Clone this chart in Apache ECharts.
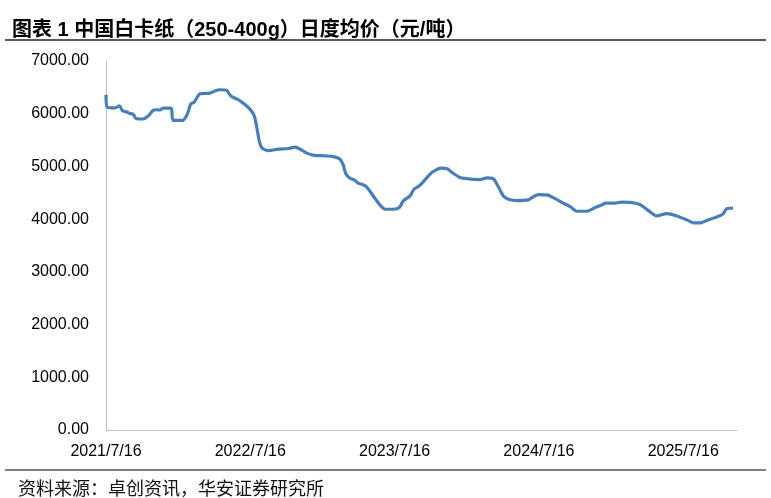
<!DOCTYPE html>
<html>
<head>
<meta charset="utf-8">
<script src="https://cdn.jsdelivr.net/npm/echarts@6/dist/echarts.min.js"></script>
<style>
  html, body { margin: 0; padding: 0; background: #fff; }
  #chart { width: 771px; height: 498px; }
</style>
</head>
<body>
<div id="chart"></div>
<script>
// 中国白卡纸（250-400g）日度均价，读图取点
const dates = [
  "2021-07-16", "2021-07-19", "2021-08-08", "2021-08-19", "2021-08-27", "2021-09-06", "2021-09-13",
  "2021-09-23", "2021-09-30", "2021-10-18", "2021-10-31", "2021-11-11", "2021-11-19", "2021-11-30",
  "2021-12-08", "2021-12-25", "2021-12-29", "2022-01-02", "2022-01-26", "2022-02-07", "2022-02-15",
  "2022-02-24", "2022-03-11", "2022-04-05", "2022-04-20", "2022-04-30", "2022-05-17", "2022-05-24",
  "2022-05-30", "2022-06-16", "2022-07-03", "2022-07-15", "2022-07-26", "2022-08-01", "2022-08-08",
  "2022-08-15", "2022-08-31", "2022-09-25", "2022-10-20", "2022-11-06", "2022-11-19", "2022-12-06",
  "2022-12-22", "2023-01-21", "2023-02-11", "2023-02-28", "2023-03-08", "2023-03-14", "2023-03-25",
  "2023-04-05", "2023-04-15", "2023-05-02", "2023-05-11", "2023-05-27", "2023-06-11", "2023-06-22",
  "2023-07-13", "2023-07-28", "2023-08-07", "2023-08-24", "2023-09-03", "2023-09-14", "2023-09-27",
  "2023-10-12", "2023-10-18", "2023-11-01", "2023-11-12", "2023-11-26", "2023-12-07", "2023-12-27",
  "2024-01-14", "2024-02-17", "2024-03-05", "2024-03-22", "2024-04-03", "2024-04-16", "2024-04-29",
  "2024-05-20", "2024-06-18", "2024-07-01", "2024-07-14", "2024-08-04", "2024-08-25", "2024-09-15",
  "2024-10-02", "2024-10-19", "2024-11-13", "2024-12-04", "2024-12-25", "2024-12-29", "2025-01-19",
  "2025-02-09", "2025-03-07", "2025-03-28", "2025-04-18", "2025-05-09", "2025-06-03", "2025-06-29",
  "2025-07-24", "2025-08-10", "2025-08-27", "2025-09-12", "2025-10-03", "2025-10-23", "2025-11-02",
  "2025-11-15", "2025-11-18"
];
const prices = [
  6360, 6125, 6110, 6150, 6055, 6035, 6010,
  5985, 5910, 5900, 5960, 6055, 6075, 6070,
  6105, 6105, 6090, 5875, 5875, 5995, 6180,
  6220, 6377, 6390, 6440, 6455, 6445, 6370,
  6325, 6265, 6170, 6087, 5960, 5757, 5472,
  5347, 5301, 5328, 5340, 5366, 5328, 5252,
  5214, 5200, 5187, 5138, 5030, 4872, 4777,
  4745, 4682, 4637, 4568, 4397, 4251, 4188,
  4188, 4219, 4346, 4441, 4568, 4618, 4713,
  4840, 4884, 4948, 4967, 4954, 4891, 4796,
  4770, 4750, 4783, 4764, 4618, 4441, 4378,
  4352, 4365, 4428, 4466, 4460, 4390, 4302,
  4238, 4150, 4150, 4219, 4283, 4302, 4302,
  4321, 4314, 4276, 4162, 4061, 4105, 4061,
  3986, 3929, 3929, 3972, 4029, 4093, 4200,
  4208, 4210
];
const tickLabels = ["2021/7/16", "2022/7/16", "2023/7/16", "2024/7/16", "2025/7/16"];
const startDate = "2021-07-16";
const endDate = "2025-11-28";

const DAY = 86400000;
function toDay(s) {
  const [y, m, d] = s.split("-").map(Number);
  const [y0, m0, d0] = startDate.split("-").map(Number);
  return Math.round((Date.UTC(y, m - 1, d) - Date.UTC(y0, m0 - 1, d0)) / DAY);
}
const seriesData = dates.map((d, i) => [toDay(d), prices[i]]);

const chart = echarts.init(document.getElementById("chart"));
chart.setOption({
  animation: false,
  backgroundColor: "#fff",
  textStyle: { fontFamily: "Liberation Sans, Arial, Noto Sans CJK SC, sans-serif" },
  title: [
    {
      text: "图表 1 中国白卡纸（250-400g）日度均价（元/吨）",
      left: 7,
      top: 15,
      textStyle: { fontSize: 20, fontWeight: "bold", color: "#000",
        fontFamily: "Liberation Sans, Noto Sans CJK SC, sans-serif" }
    },
    {
      text: "资料来源：卓创资讯，华安证券研究所",
      left: 13,
      top: 474,
      textStyle: { fontSize: 18, fontWeight: "normal", color: "#111",
        fontFamily: "Noto Sans CJK SC, sans-serif" }
    }
  ],
  graphic: [
    { type: "line", shape: { x1: 5, y1: 40, x2: 766, y2: 40 }, style: { stroke: "#222", lineWidth: 1.5 } },
    { type: "line", shape: { x1: 5, y1: 470, x2: 766, y2: 470 }, style: { stroke: "#555", lineWidth: 1.5 } }
  ],
  grid: { left: 106, right: 34, top: 61, bottom: 68 },
  xAxis: {
    type: "value",
    min: 0,
    max: toDay(endDate),
    interval: 365,
    axisLine: { lineStyle: { color: "#bfbfbf", width: 1 } },
    axisTick: { show: false },
    splitLine: { show: false },
    axisLabel: {
      showMaxLabel: false,
      color: "#000",
      fontSize: 16,
      margin: 14,
      formatter: v => tickLabels[Math.round(v / 365)] || ""
    }
  },
  yAxis: {
    type: "value",
    min: 0,
    max: 7000,
    interval: 1000,
    axisLine: { show: true, lineStyle: { color: "#bfbfbf", width: 1 } },
    axisTick: { show: false },
    splitLine: { show: false },
    axisLabel: {
      color: "#000",
      fontSize: 16,
      margin: 17,
      formatter: v => v.toFixed(2)
    }
  },
  series: [
    {
      type: "line",
      data: seriesData,
      showSymbol: false,
      smooth: 0.25,
      lineStyle: { color: "#4a7ebb", width: 3.2 }
    }
  ]
});
</script>
</body>
</html>
